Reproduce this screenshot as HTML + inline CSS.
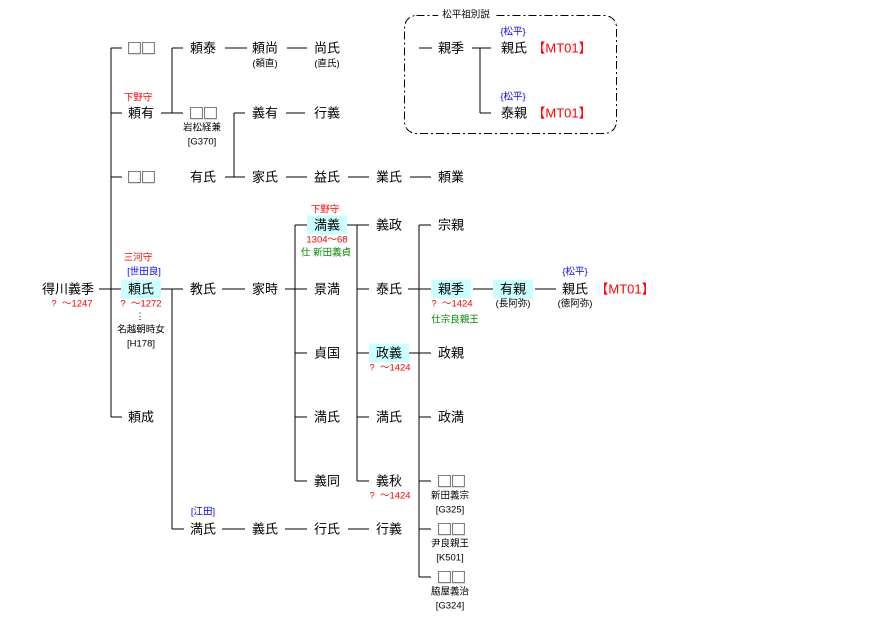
<!DOCTYPE html>
<html><head><meta charset="utf-8"><style>
body{margin:0;width:893px;height:631px;background:#fff;position:relative;overflow:hidden;font-family:"Liberation Sans","Noto Sans CJK JP",sans-serif;}
.t{position:absolute;transform:translate(-50%,-50%);white-space:nowrap;font-size:13px;color:#000;line-height:1;}
.s{font-size:9.5px;}
.r{color:#f00}.b{color:#00f}.g{color:#080}
.h{background:#ccffff;padding:3px 7px;}
.q{font-family:"Noto Sans CJK JP","WenQuanYi Zen Hei",sans-serif;font-size:15px;letter-spacing:-1px;}
svg{position:absolute;left:0;top:0}
</style></head><body>
<svg width="893" height="631" stroke="#000" stroke-width="1" fill="none" shape-rendering="crispEdges">
<rect x="404.5" y="15.5" width="212" height="118" rx="12" stroke-dasharray="8,3,2,3"/>
<path d="M111 48V417 M111 48H122 M111 113H122 M111 177H122 M111 289H122 M111 417H122 M99 289H111"/>
<path d="M161 113H172 M172 48V113 M172 48H183 M172 113H183"/>
<path d="M225 48H247 M287 48H307"/>
<path d="M234 113V177 M234 113H245 M225 177H245 M286 113H305"/>
<path d="M286 177H307 M348 177H369 M410 177H431"/>
<path d="M161 289H183 M172 289V529 M172 529H184"/>
<path d="M222 289H245 M285 289H307 M295 225V481 M295 225H307 M295 353H307 M295 417H307 M295 481H307"/>
<path d="M347 225H369 M357 225V481 M357 289H369 M357 353H369 M357 417H369 M357 481H369"/>
<path d="M408 289H431 M419 225V577 M419 225H431 M409 353H431 M419 417H431 M419 481H431 M419 529H431 M419 577H431"/>
<path d="M473 289H494 M535 289H556"/>
<path d="M222 529H245 M285 529H307 M348 529H369"/>
<path d="M419 48H432 M472 48H491 M480 48V113 M480 113H491"/>
</svg>
<div class="t s" style="left:466px;top:15px;background:#fff;padding:0 4px">松平祖別説</div>

<div class="t" style="left:68px;top:289px">得川義季</div>
<div class="t s r" style="left:72px;top:304px">?&nbsp; 〜1247</div>

<div class="t q" style="left:141px;top:48px">□□</div>
<div class="t s r" style="left:138px;top:98px">下野守</div>
<div class="t" style="left:141px;top:113px">頼有</div>
<div class="t q" style="left:141px;top:177px">□□</div>
<div class="t s r" style="left:138px;top:258px">三河守</div>
<div class="t s b" style="left:144px;top:272px">[世田良]</div>
<div class="t h" style="left:141px;top:289px">頼氏</div>
<div class="t s r" style="left:141px;top:304px">?&nbsp; 〜1272</div>
<div class="t s" style="left:140px;top:317px">⋮</div>
<div class="t s" style="left:141px;top:330px">名越朝時女</div>
<div class="t s" style="left:141px;top:344px">[H178]</div>
<div class="t" style="left:141px;top:417px">頼成</div>

<div class="t" style="left:203px;top:48px">頼泰</div>
<div class="t q" style="left:203px;top:113px">□□</div>
<div class="t s" style="left:202px;top:128px">岩松経兼</div>
<div class="t s" style="left:202px;top:142px">[G370]</div>
<div class="t" style="left:203px;top:177px">有氏</div>
<div class="t" style="left:203px;top:289px">教氏</div>
<div class="t s b" style="left:203px;top:512px">[江田]</div>
<div class="t" style="left:203px;top:529px">満氏</div>

<div class="t" style="left:265px;top:48px">頼尚</div>
<div class="t s" style="left:265px;top:64px">(頼直)</div>
<div class="t" style="left:265px;top:113px">義有</div>
<div class="t" style="left:265px;top:177px">家氏</div>
<div class="t" style="left:265px;top:289px">家時</div>
<div class="t" style="left:265px;top:529px">義氏</div>

<div class="t" style="left:327px;top:48px">尚氏</div>
<div class="t s" style="left:327px;top:64px">(直氏)</div>
<div class="t" style="left:327px;top:113px">行義</div>
<div class="t" style="left:327px;top:177px">益氏</div>
<div class="t s r" style="left:325px;top:210px">下野守</div>
<div class="t h" style="left:327px;top:225px">満義</div>
<div class="t s r" style="left:327px;top:240px">1304〜68</div>
<div class="t s g" style="left:326px;top:253px">仕 新田義貞</div>
<div class="t" style="left:327px;top:289px">景満</div>
<div class="t" style="left:327px;top:353px">貞国</div>
<div class="t" style="left:327px;top:417px">満氏</div>
<div class="t" style="left:327px;top:481px">義同</div>
<div class="t" style="left:327px;top:529px">行氏</div>

<div class="t" style="left:389px;top:177px">業氏</div>
<div class="t" style="left:389px;top:225px">義政</div>
<div class="t" style="left:389px;top:289px">泰氏</div>
<div class="t h" style="left:389px;top:353px">政義</div>
<div class="t s r" style="left:390px;top:368px">?&nbsp; 〜1424</div>
<div class="t" style="left:389px;top:417px">満氏</div>
<div class="t" style="left:389px;top:481px">義秋</div>
<div class="t s r" style="left:390px;top:496px">?&nbsp; 〜1424</div>
<div class="t" style="left:389px;top:529px">行義</div>

<div class="t" style="left:451px;top:48px">親季</div>
<div class="t" style="left:451px;top:177px">頼業</div>
<div class="t" style="left:451px;top:225px">宗親</div>
<div class="t h" style="left:451px;top:289px">親季</div>
<div class="t s r" style="left:452px;top:304px">?&nbsp; 〜1424</div>
<div class="t s g" style="left:455px;top:320px">仕宗良親王</div>
<div class="t" style="left:451px;top:353px">政親</div>
<div class="t" style="left:451px;top:417px">政満</div>
<div class="t q" style="left:451px;top:481px">□□</div>
<div class="t s" style="left:450px;top:496px">新田義宗</div>
<div class="t s" style="left:450px;top:510px">[G325]</div>
<div class="t q" style="left:451px;top:529px">□□</div>
<div class="t s" style="left:450px;top:544px">尹良親王</div>
<div class="t s" style="left:450px;top:558px">[K501]</div>
<div class="t q" style="left:451px;top:577px">□□</div>
<div class="t s" style="left:450px;top:592px">脇屋義治</div>
<div class="t s" style="left:450px;top:606px">[G324]</div>

<div class="t s b" style="left:513px;top:32px">{松平}</div>
<div class="t" style="left:514px;top:48px">親氏</div>
<div class="t r" style="left:562px;top:48px">【MT01】</div>
<div class="t s b" style="left:513px;top:97px">{松平}</div>
<div class="t" style="left:514px;top:113px">泰親</div>
<div class="t r" style="left:562px;top:113px">【MT01】</div>

<div class="t h" style="left:513px;top:289px">有親</div>
<div class="t s" style="left:513px;top:304px">(長阿弥)</div>
<div class="t s b" style="left:575px;top:272px">{松平}</div>
<div class="t" style="left:575px;top:289px">親氏</div>
<div class="t s" style="left:575px;top:304px">(徳阿弥)</div>
<div class="t r" style="left:625px;top:289px">【MT01】</div>
</body></html>
